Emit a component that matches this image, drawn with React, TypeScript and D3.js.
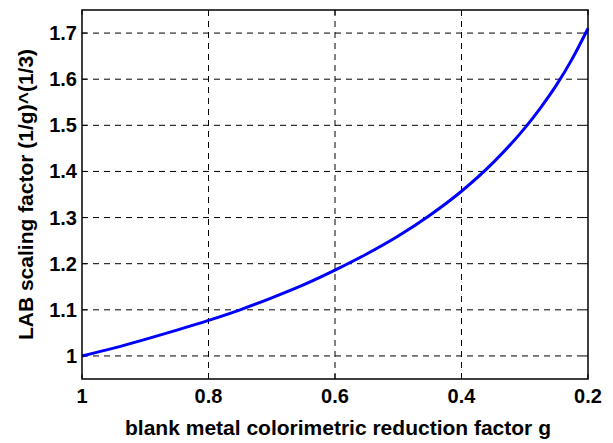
import React from "react";
import * as d3 from "d3";

const gValues = [1.0, 0.95, 0.9, 0.85, 0.8, 0.75, 0.7, 0.65, 0.6, 0.55, 0.5, 0.45, 0.4, 0.35, 0.3, 0.275, 0.25, 0.225, 0.2];
const scaleValues = [1.0, 1.017, 1.036, 1.056, 1.077, 1.1, 1.126, 1.154, 1.186, 1.221, 1.26, 1.305, 1.357, 1.419, 1.494, 1.538, 1.587, 1.644, 1.71];
const xTicks = [1, 0.8, 0.6, 0.4, 0.2];
const yTicks = [1, 1.1, 1.2, 1.3, 1.4, 1.5, 1.6, 1.7];
const xTickLabels = ["1", "0.8", "0.6", "0.4", "0.2"];
const yTickLabels = ["1", "1.1", "1.2", "1.3", "1.4", "1.5", "1.6", "1.7"];

export default function App() {
  const W = 613, H = 443;
  const L = 82, R = 588, T = 10, B = 379;
  const x = d3.scaleLinear().domain([1, 0.2]).range([L, R]);
  const y = d3.scaleLinear().domain([0.95, 1.75]).range([B, T]);
  const data = gValues.map((g, i) => [g, scaleValues[i]] as [number, number]);
  const line = d3.line<[number, number]>().x(d => x(d[0])).y(d => y(d[1])).curve(d3.curveMonotoneX);
  const font = "Arial, 'Liberation Sans', sans-serif";
  return (
    <svg width={W} height={H} style={{ position: "absolute", left: 0, top: 0, background: "#fff" }}>
      <rect x={0} y={0} width={W} height={H} fill="#fff" />
      {xTicks.slice(1, -1).map(t => (
        <line key={"gx" + t} x1={x(t)} x2={x(t)} y1={T} y2={B} stroke="#000" strokeWidth={1} strokeDasharray="6,5" />
      ))}
      {yTicks.map(t => (
        <line key={"gy" + t} x1={L} x2={R} y1={y(t)} y2={y(t)} stroke="#000" strokeWidth={1} strokeDasharray="6,5" />
      ))}
      {xTicks.map(t => (
        <g key={"tx" + t}>
          <line x1={x(t)} x2={x(t)} y1={B} y2={B - 5} stroke="#000" />
          <line x1={x(t)} x2={x(t)} y1={T} y2={T + 5} stroke="#000" />
        </g>
      ))}
      {yTicks.map(t => (
        <g key={"ty" + t}>
          <line x1={L} x2={L + 5} y1={y(t)} y2={y(t)} stroke="#000" />
          <line x1={R} x2={R - 5} y1={y(t)} y2={y(t)} stroke="#000" />
        </g>
      ))}
      <path d={line(data) || ""} fill="none" stroke="#0000ff" strokeWidth={3} />
      <rect x={L} y={T} width={R - L} height={B - T} fill="none" stroke="#000" strokeWidth={1.5} />
      {xTicks.map((t, i) => (
        <text key={"lx" + t} x={x(t)} y={403} textAnchor="middle" fontFamily={font} fontWeight="bold" fontSize={20}>{xTickLabels[i]}</text>
      ))}
      {yTicks.map((t, i) => (
        <text key={"ly" + t} x={77} y={y(t) + 7} textAnchor="end" fontFamily={font} fontWeight="bold" fontSize={20}>{yTickLabels[i]}</text>
      ))}
      <text x={338} y={435} textAnchor="middle" fontFamily={font} fontWeight="bold" fontSize={21}>blank metal colorimetric reduction factor g</text>
      <text transform={`translate(33,${(T + B) / 2}) rotate(-90)`} textAnchor="middle" fontFamily={font} fontWeight="bold" fontSize={21}>LAB scaling factor (1/g)^(1/3)</text>
    </svg>
  );
}
